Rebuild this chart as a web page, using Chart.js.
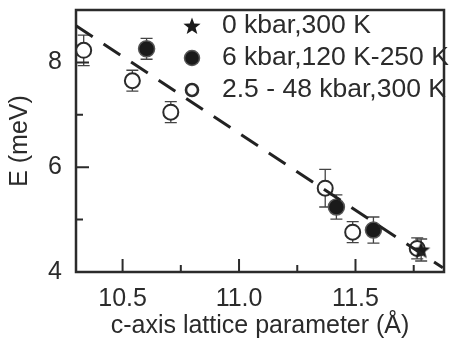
<!DOCTYPE html>
<html>
<head>
<meta charset="utf-8">
<script src="https://cdn.jsdelivr.net/npm/chart.js@4.4.0/dist/chart.umd.min.js"></script>
<style>
html,body{margin:0;padding:0;background:#fff;}
#wrap{width:454px;height:343px;}
</style>
</head>
<body>
<div id="wrap"><canvas id="c" width="454" height="343"></canvas></div>
<script>
// values
const legendLabels = ['0 kbar,300 K', '6 kbar,120 K-250 K', '2.5 - 48 kbar,300 K'];
const starX = [11.782];
const starY = [4.42];
const starErr = [0.21];
const filledX = [10.603, 11.418, 11.577];
const filledY = [8.26, 5.24, 4.80];
const filledErr = [0.2, 0.23, 0.25];
const openX = [10.333, 10.542, 10.707, 11.370, 11.488, 11.765];
const openY = [8.23, 7.65, 7.05, 5.60, 4.76, 4.45];
const openErr = [0.29, 0.2, 0.2, 0.36, 0.2, 0.2];
const fitX = [10.3, 11.875];
const fitY = [8.70, 4.08];
const xTicks = [10.5, 11.0, 11.5];
const xMinor = [10.75, 11.25, 11.75];
const yTicks = [4, 6, 8];
const yMinor = [5, 7];

const INK = '#2b2b2b';
Chart.defaults.font.family = "'Liberation Sans', Arial, sans-serif";
Chart.defaults.color = INK;

function makeStar(size){
  const c = document.createElement('canvas');
  c.width = c.height = size;
  const g = c.getContext('2d');
  const r = size/2, ri = r*0.42;
  g.beginPath();
  for(let i=0;i<10;i++){
    const a = -Math.PI/2 + i*Math.PI/5;
    const rr = i%2 ? ri : r;
    g.lineTo(r + rr*Math.cos(a), r + 0.6 + rr*Math.sin(a));
  }
  g.closePath(); g.fillStyle = '#1a1a1a'; g.fill();
  return c;
}
const starImg = makeStar(19);
const legendStar = makeStar(18);

const pts = (xs, ys) => xs.map((x,i)=>({x, y:ys[i]}));

const errGroups = [[starX,starY,starErr],[filledX,filledY,filledErr],[openX,openY,openErr]];

const framePlugin = {
  id:'frame',
  beforeDatasetsDraw(chart){
    const {ctx, chartArea:a, scales:{x,y}} = chart;
    ctx.save();
    // error bars
    ctx.strokeStyle = '#444'; ctx.lineWidth = 1.3;
    errGroups.forEach(([xs,ys,es])=>{
      xs.forEach((v,i)=>{
        const px = x.getPixelForValue(v);
        const t = y.getPixelForValue(ys[i]+es[i]);
        const b = y.getPixelForValue(ys[i]-es[i]);
        ctx.beginPath();
        ctx.moveTo(px,t); ctx.lineTo(px,b);
        ctx.moveTo(px-6,t); ctx.lineTo(px+6,t);
        ctx.moveTo(px-6,b); ctx.lineTo(px+6,b);
        ctx.stroke();
      });
    });
    // inward ticks
    ctx.strokeStyle = INK; ctx.lineWidth = 2;
    ctx.beginPath();
    xTicks.forEach(v=>{ const p=x.getPixelForValue(v); ctx.moveTo(p,a.bottom); ctx.lineTo(p,a.bottom-13); });
    xMinor.forEach(v=>{ const p=x.getPixelForValue(v); ctx.moveTo(p,a.bottom); ctx.lineTo(p,a.bottom-7); });
    yTicks.forEach(v=>{ const p=y.getPixelForValue(v); ctx.moveTo(a.left,p); ctx.lineTo(a.left+13,p); });
    yMinor.forEach(v=>{ const p=y.getPixelForValue(v); ctx.moveTo(a.left,p); ctx.lineTo(a.left+7,p); });
    ctx.stroke();
    // frame
    ctx.lineWidth = 2.5;
    ctx.strokeRect(a.left, a.top, a.right-a.left, a.bottom-a.top);
    ctx.restore();
  },
  afterDraw(chart){
    const {ctx} = chart;
    const lx = 192, tx = 222, rows = [26, 58, 90];
    ctx.save();
    ctx.drawImage(legendStar, lx-9, rows[0]-9);
    ctx.beginPath(); ctx.arc(lx, rows[1], 7.5, 0, Math.PI*2);
    ctx.fillStyle = '#1a1a1a'; ctx.fill();
    ctx.strokeStyle = '#555'; ctx.lineWidth = 1.5; ctx.stroke();
    ctx.beginPath(); ctx.arc(lx, rows[2], 6, 0, Math.PI*2);
    ctx.fillStyle = '#fff'; ctx.fill();
    ctx.strokeStyle = INK; ctx.lineWidth = 2.6; ctx.stroke();
    ctx.fillStyle = INK;
    ctx.font = "26.5px 'Liberation Sans', Arial, sans-serif";
    ctx.textBaseline = 'middle'; ctx.textAlign = 'left';
    legendLabels.forEach((t,i)=>ctx.fillText(t, tx, rows[i]));
    ctx.restore();
  }
};

new Chart(document.getElementById('c'), {
  type:'scatter',
  data:{
    datasets:[
      { type:'line', data:pts(fitX, fitY), showLine:true, borderColor:'#222', borderWidth:3,
        borderDash:[20,13], pointRadius:0, fill:false, order:0 },
      { label:legendLabels[0], data:pts(starX, starY), pointStyle:starImg, pointRadius:9, order:1 },
      { label:legendLabels[1], data:pts(filledX, filledY), pointStyle:'circle', pointRadius:8,
        backgroundColor:'#1a1a1a', borderColor:'#555', borderWidth:1.5, order:2 },
      { label:legendLabels[2], data:pts(openX, openY), pointStyle:'circle', pointRadius:7.5,
        backgroundColor:'#fff', borderColor:INK, borderWidth:2, order:3 }
    ]
  },
  options:{
    responsive:false, animation:false, devicePixelRatio:1,
    layout:{ padding:{ top:7, right:4, left:0, bottom:0 } },
    plugins:{ legend:{display:false}, tooltip:{enabled:false} },
    scales:{
      x:{
        type:'linear', min:10.3, max:11.88,
        afterBuildTicks: s => { s.ticks = xTicks.map(v=>({value:v})); },
        afterFit: s => { s.height = 71; s.paddingLeft = 0; s.paddingRight = 0; },
        grid:{display:false, drawTicks:false}, border:{display:false},
        ticks:{ callback:v=>v.toFixed(1), font:{size:25}, color:INK, padding:12, maxRotation:0, autoSkip:false },
        title:{ display:true, text:'c-axis lattice parameter (Å)', font:{size:25}, color:INK, padding:{top:0,bottom:2} }
      },
      y:{
        type:'linear', min:4, max:9,
        afterBuildTicks: s => { s.ticks = yTicks.map(v=>({value:v})); },
        afterFit: s => { s.width = 76; s.paddingTop = 0; s.paddingBottom = 0; },
        grid:{display:false, drawTicks:false}, border:{display:false},
        ticks:{ callback:v=>String(v), font:{size:25}, color:INK, padding:14 },
        title:{ display:true, text:'E (meV)', font:{size:25}, color:INK, padding:{top:5,bottom:0} }
      }
    }
  },
  plugins:[framePlugin]
});
</script>
</body>
</html>
